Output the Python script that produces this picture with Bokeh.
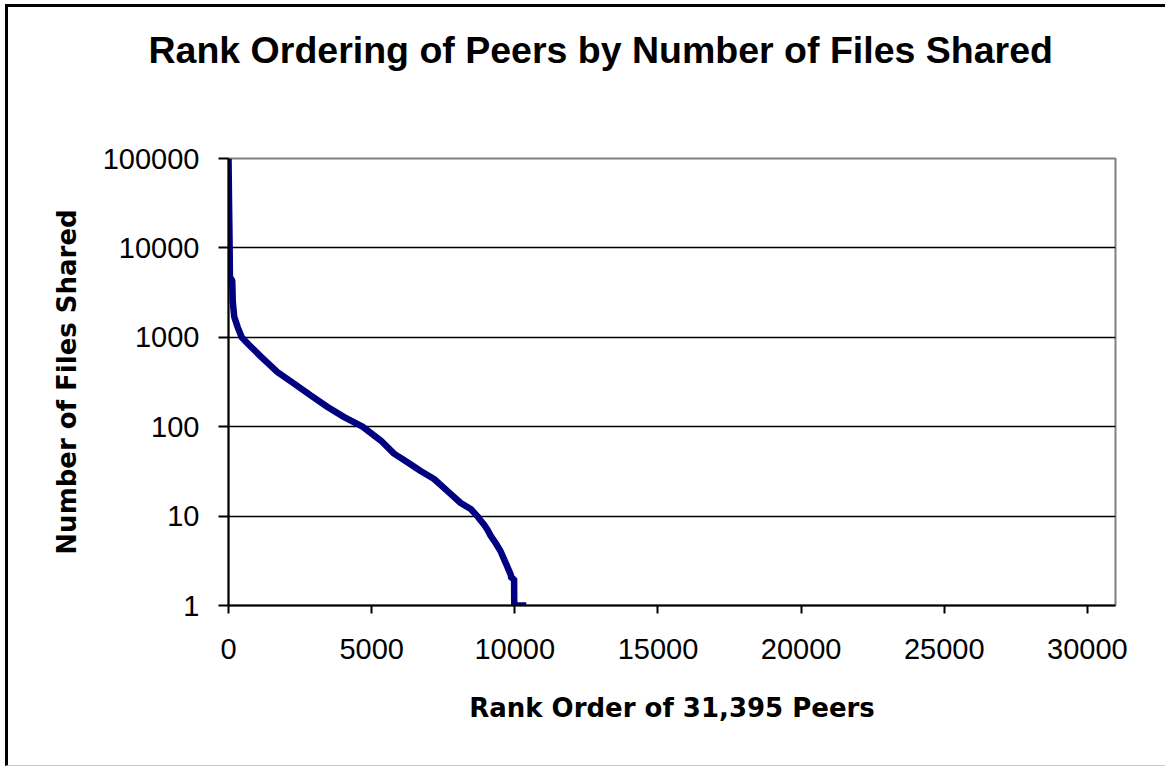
from bokeh.plotting import figure
from bokeh.models import Range1d, FixedTicker, NumeralTickFormatter, Title
from bokeh.embed import file_html
from bokeh.resources import INLINE

title_text = "Rank Ordering of Peers by Number of Files Shared"
x_label = "Rank Order of 31,395 Peers"
y_label = "Number of Files Shared"

# rank order of peer (x) and number of files it shares (y, log scale)
rank = [1, 20, 40, 50, 130, 150, 200, 320, 460, 720, 1150, 1710, 2290, 2870,
        3460, 4040, 4680, 5320, 5780, 6250, 6710, 7180, 7650, 8110, 8460, 8690,
        8800, 8930, 9050, 9160, 9330, 9510, 9680, 9860, 9880, 9975, 9980, 10400]
files = [100000, 30000, 10000, 4700, 4300, 2500, 1700, 1300, 1000, 820, 600, 408,
         303, 224, 166, 128, 100, 70, 50, 40, 32, 26, 19, 14, 12, 10,
         9, 8, 7, 6, 5, 4, 3, 2.2, 2, 2, 1, 1]

x_ticks = [0, 5000, 10000, 15000, 20000, 25000, 30000]
y_ticks = [1, 10, 100, 1000, 10000, 100000]
grid_ticks = [10, 100, 1000, 10000]

p = figure(width=1160, height=762, y_axis_type="log",
           x_range=Range1d(0, 30980), y_range=Range1d(1, 100000),
           output_backend="svg", toolbar_location=None,
           min_border_left=220, min_border_right=53,
           min_border_top=151, min_border_bottom=164,
           styles={"margin-left": "5px", "margin-top": "4px",
                   "border-left": "3px solid black",
                   "border-top": "3px solid black",
                   "border-bottom": "1px solid #c8c8c8"})

p.background_fill_color = "white"
p.border_fill_color = "white"
p.outline_line_color = "#808080"
p.outline_line_width = 2

# spacer between the title and the plot area
p.add_layout(Title(text=" ", text_font_size="20px", standoff=64,
                   text_color="white"), "above")

# title
p.title.text = title_text
p.title.align = "left"
p.title.vertical_align = "bottom"
p.title.offset = -80
p.title.standoff = 0
p.title.text_font = "Liberation Sans"
p.title.text_font_style = "bold"
p.title.text_font_size = "37.5px"
p.title.text_color = "black"

# axes
for ax in (p.xaxis, p.yaxis):
    ax.axis_line_color = "black"
    ax.axis_line_width = 2
    ax.major_tick_line_color = "black"
    ax.major_tick_line_width = 2
    ax.major_tick_in = 0
    ax.minor_tick_in = 0
    ax.minor_tick_out = 0
    ax.major_label_text_font = "Liberation Sans"
    ax.major_label_text_font_size = "29px"
    ax.major_label_text_color = "black"
    ax.formatter = NumeralTickFormatter(format="0")
    ax.axis_label_text_font = "DejaVu Sans"
    ax.axis_label_text_font_style = "bold"
    ax.axis_label_text_font_size = "26px"
    ax.axis_label_text_color = "black"

p.xaxis.ticker = FixedTicker(ticks=x_ticks, minor_ticks=[])
p.yaxis.ticker = FixedTicker(ticks=y_ticks, minor_ticks=[])
p.xaxis.major_tick_out = 8
p.yaxis.major_tick_out = 10
p.xaxis.major_label_standoff = 25
p.yaxis.major_label_standoff = 19

p.xaxis.axis_label = x_label
p.xaxis.axis_label_standoff = 31
p.yaxis.axis_label = y_label
p.yaxis.axis_label_standoff = 18

# grid
p.xgrid.visible = False
p.ygrid.ticker = FixedTicker(ticks=grid_ticks)
p.ygrid.grid_line_color = "black"
p.ygrid.grid_line_width = 1.5

# data line
p.line(rank, files, line_color="#000080", line_width=6.5)

open("out.html", "w").write(file_html(p, INLINE))
